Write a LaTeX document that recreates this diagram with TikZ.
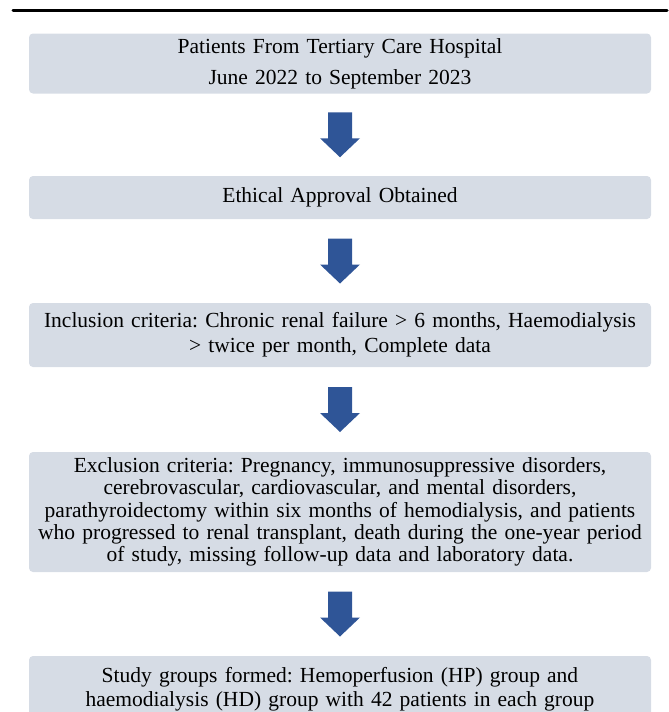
\documentclass[tikz,border=0pt]{standalone}
\usepackage{fontspec}
\setmainfont{Liberation Serif}
\usetikzlibrary{calc}

\definecolor{boxgrey}{HTML}{D6DCE5}
\definecolor{arrowblue}{HTML}{2F5597}

% block arrow between two boxes
\newcommand{\blkarrow}[2]{%
  \fill[arrowblue] ($(#1.south)!0.5!(#2.north)$) ++(-12,-22.5) -- ++(24,0) -- ++(0,26)
    -- ++(8,0) -- ++(-20,19) -- ++(-20,-19) -- ++(8,0) -- cycle;
}

\begin{document}
\frenchspacing
\begin{tikzpicture}[x=0.5pt,y=-0.5pt,line cap=round,line join=round,
  stepbox/.style={fill=boxgrey,rounded corners=2pt,inner xsep=0pt,inner ysep=0pt,
    text width=311pt,align=center,font=\fontsize{10.75}{11.2}\selectfont}]
  \clip (0,0) rectangle (669,712);
  \draw[line width=1.5pt] (13,10.7) -- (667,10.7);
  % boxes
  \node[stepbox,minimum height=30pt] (source) at (340,63.5)
    {Patients From Tertiary Care Hospital\\[4.4pt] June 2022 to September 2023};
  \node[stepbox,minimum height=21.5pt] (ethics) at (340,197.5)
    {Ethical Approval Obtained};
  \node[stepbox,minimum height=32pt] (incl) at (340,335)
    {Inclusion criteria: Chronic renal failure > 6 months, Haemodialysis\\[1.3pt] > twice per month, Complete data};
  \node[stepbox,minimum height=60pt] (excl) at (340,512)
    {Exclusion criteria: Pregnancy, immunosuppressive disorders,\\
     cerebrovascular, cardiovascular, and mental disorders,\\
     parathyroidectomy within six months of hemodialysis, and patients\\
     who progressed to renal transplant, death during the one-year period\\
     of study, missing follow-up data and laboratory data.};
  \node[stepbox,minimum height=33pt] (groups) at (340,689)
    {Study groups formed: Hemoperfusion (HP) group and\\[0.8pt]
     haemodialysis (HD) group with 42 patients in each group};
  % arrows
  \blkarrow{source}{ethics}
  \blkarrow{ethics}{incl}
  \blkarrow{incl}{excl}
  \blkarrow{excl}{groups}
\end{tikzpicture}
\end{document}
